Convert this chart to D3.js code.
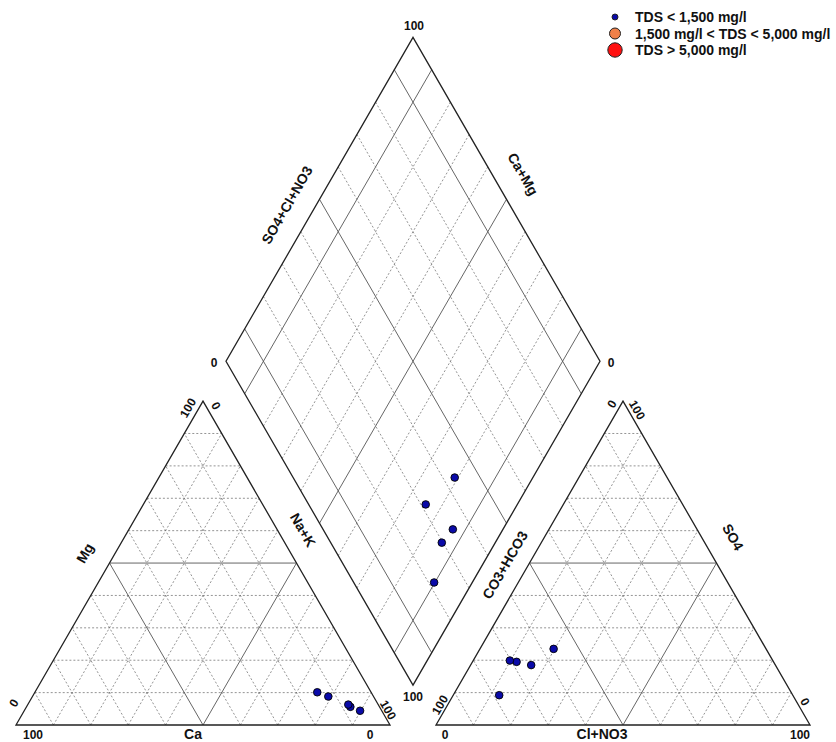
<!DOCTYPE html>
<html>
<head>
<meta charset="utf-8">
<script src="https://cdn.jsdelivr.net/npm/d3@7"></script>
<style>
  html, body { margin: 0; padding: 0; background: #fff; }
  svg { display: block; font-family: Arial, "Liberation Sans", sans-serif; }
</style>
</head>
<body>
<svg id="chart" width="836" height="742"></svg>
<script>
// ---- data (percent of meq) ----
const sampleIds  = ["S1", "S2", "S3", "S4", "S5"];
const sampleCa   = [12.1, 14.4, 7.8, 8.0, 5.8];
const sampleMg   = [8.8, 10.1, 5.6, 6.3, 4.4];
const sampleNaK  = [79.1, 75.5, 86.6, 85.7, 89.8];
const sampleHCO3 = [56.8, 68.7, 65.3, 70.3, 78.5];
const sampleSO4  = [23.5, 19.5, 18.5, 19.9, 9.2];
const sampleCl   = [19.7, 11.8, 16.2, 9.8, 12.3];
const sampleTDSClass = [0, 0, 0, 0, 0];

const legendLabels = ["TDS < 1,500 mg/l", "1,500 mg/l < TDS < 5,000 mg/l", "TDS > 5,000 mg/l"];
const legendColors = ["#0a0aa8", "#f08048", "#ff1010"];
const legendRadius = [3, 5.5, 7.2];

const gridSteps = [10, 20, 30, 40, 50, 60, 70, 80, 90];
const triSolid = [50];
const diamondSolid = [10, 50, 90];

// ---- geometry ----
const svg = d3.select("#chart");
const x0 = 16, yb = 725, side = 374, gap = 46;
const r3 = Math.sqrt(3);
const xA0 = x0 + side + gap;
const sc = d3.scaleLinear().domain([0, 100]).range([0, side]);

// ternary: right component (Na+K / Cl), top component (Mg / SO4)
function tri(ox, right, top) {
  return [ox + sc(right) + sc(top) / 2, yb - sc(top) * r3 / 2];
}
// diamond from Na+K (n) and HCO3 (h)
function dia(n, h) {
  const xc = x0 + sc(n);
  const xa = xA0 + sc(100 - h);
  return [(xc + xa) / 2, yb - (xa - xc) / 2 * r3];
}

const gGrid = svg.append("g");
const line = d3.line();

function drawSeg(p, q, solid) {
  gGrid.append("path")
    .attr("d", line([p, q]))
    .attr("fill", "none")
    .attr("stroke", solid ? "#555" : "#707070")
    .attr("stroke-width", solid ? 0.9 : 0.75)
    .attr("stroke-dasharray", solid ? null : "2,2");
}

// triangles grid
[x0, xA0].forEach(ox => {
  gridSteps.forEach(v => {
    const solid = triSolid.includes(v);
    drawSeg(tri(ox, 0, v), tri(ox, 100 - v, v), solid);
    drawSeg(tri(ox, v, 0), tri(ox, v, 100 - v), solid);
    drawSeg(tri(ox, 100 - v, 0), tri(ox, 0, 100 - v), solid);
  });
  gGrid.append("path")
    .attr("d", line([tri(ox, 0, 0), tri(ox, 100, 0), tri(ox, 0, 100)]) + "Z")
    .attr("fill", "none").attr("stroke", "#222").attr("stroke-width", 1.3);
});

// diamond grid
gridSteps.forEach(v => {
  const solid = diamondSolid.includes(v);
  drawSeg(dia(v, 0), dia(v, 100), solid);
  drawSeg(dia(0, v), dia(100, v), solid);
});
gGrid.append("path")
  .attr("d", line([dia(0, 0), dia(0, 100), dia(100, 100), dia(100, 0)]) + "Z")
  .attr("fill", "none").attr("stroke", "#222").attr("stroke-width", 1.3);

// ---- points ----
const gPts = svg.append("g");
const idx = d3.range(sampleIds.length);
function pts(fn) {
  gPts.selectAll(null).data(idx).enter().append("circle")
    .attr("cx", i => fn(i)[0]).attr("cy", i => fn(i)[1])
    .attr("r", 3.8)
    .attr("fill", i => legendColors[sampleTDSClass[i]])
    .attr("stroke", "#000").attr("stroke-width", 0.9);
}
pts(i => tri(x0, sampleNaK[i], sampleMg[i]));
pts(i => tri(xA0, sampleCl[i], sampleSO4[i]));
pts(i => dia(sampleNaK[i], sampleHCO3[i]));

// ---- labels ----
const gTxt = svg.append("g").attr("font-weight", "bold").attr("fill", "#111");
function label(txt, x, y, rot, size) {
  gTxt.append("text")
    .attr("transform", `translate(${x},${y}) rotate(${rot})`)
    .attr("text-anchor", "middle")
    .attr("dominant-baseline", "central")
    .attr("font-size", size)
    .text(txt);
}
// axis names
label("Mg", 85, 553, -60, 14);
label("Ca", 193, 734, 0, 14);
label("Na+K", 303, 530, 60, 14);
label("CO3+HCO3", 505, 565, -60, 14);
label("Cl+NO3", 602, 734, 0, 14);
label("SO4", 733, 537, 60, 14);
label("SO4+Cl+NO3", 287, 205, -60, 14);
label("Ca+Mg", 523, 174, 60, 14);

// tick values
label("100", 33, 735, 0, 12);
label("0", 370, 735, 0, 12);
label("0", 445, 735, 0, 12);
label("100", 800, 735, 0, 12);
label("100", 188, 408, -60, 12);
label("0", 216, 406, 60, 12);
label("0", 14, 703, -60, 12);
label("100", 388, 710, 60, 12);
label("0", 612, 404, -60, 12);
label("100", 637, 410, 60, 12);
label("100", 440, 705, -60, 12);
label("0", 805, 702, 60, 12);
label("100", 414, 26, 0, 12);
label("0", 214, 363, 0, 12);
label("0", 611, 363, 0, 12);
label("100", 413, 697, 0, 12);

// ---- legend ----
const gLeg = svg.append("g");
legendLabels.forEach((t, i) => {
  const y = 17 + i * 16.5;
  gLeg.append("circle").attr("cx", 615).attr("cy", y).attr("r", legendRadius[i])
    .attr("fill", legendColors[i]).attr("stroke", "#222").attr("stroke-width", 1);
  gLeg.append("text").attr("x", 635).attr("y", y).attr("dominant-baseline", "central")
    .attr("font-size", 14).attr("font-weight", "bold").attr("fill", "#111").text(t);
});
</script>
</body>
</html>
